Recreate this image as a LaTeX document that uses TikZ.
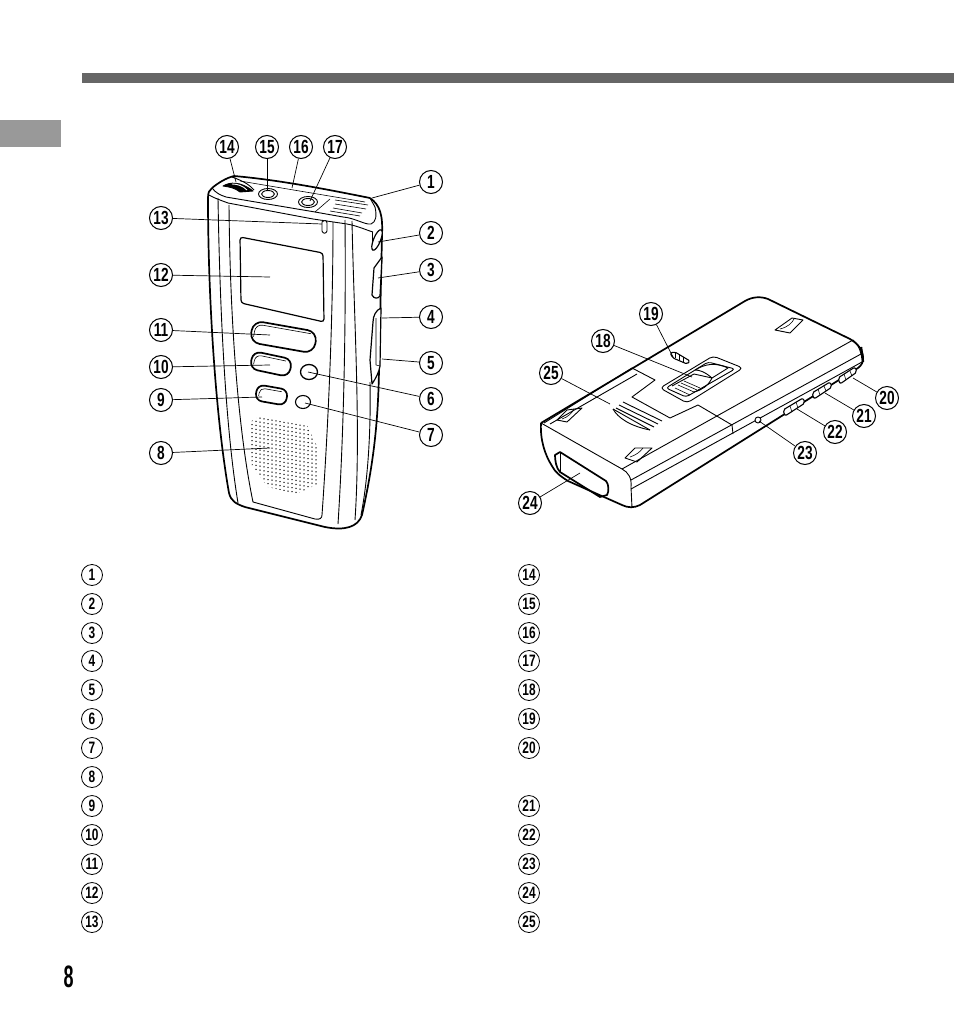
\documentclass[tikz,border=0pt]{standalone}
\usepackage{fontspec}
\usepackage{tikz}
\newfontfamily\numfont{Liberation Sans}[FakeStretch=0.72]
\newfontfamily\pagefont{Liberation Sans}[FakeStretch=0.58]
\definecolor{barGray}{HTML}{666666}
\definecolor{tabGray}{HTML}{999999}
\tikzset{
  callout/.style={circle,draw,line width=1pt,inner sep=0pt,minimum size=23pt,font=\numfont\bfseries\fontsize{19}{19}\selectfont},
  legendnum/.style={circle,draw,line width=.8pt,inner sep=0pt,minimum size=21pt,font=\numfont\bfseries\fontsize{16.5}{16.5}\selectfont},
  leader/.style={line width=.7pt},
  outline/.style={line width=1.7pt,line join=round},
  edge/.style={line width=.9pt,line join=round},
  fine/.style={line width=.6pt,line join=round}
}
\begin{document}
\begin{tikzpicture}[x=1pt,y=-1pt]
  \useasboundingbox (0,0) rectangle (954,1022);

  % Page furniture
  \fill[barGray] (82,73) rectangle (954,83);
  \fill[tabGray] (0,120) rectangle (61,147);
  \node[inner sep=0pt,font=\pagefont\bfseries\fontsize{31}{31}\selectfont] (page) at (68.5,977) {8};

  % Front view: body
  \draw[outline] (212,188) .. controls (209,190) and (208,193) .. (208,198) .. controls (208,300) and (216,420) .. (229,493)
    .. controls (231,501) and (236,504) .. (245,507) -- (325,527) .. controls (345,531) and (358,527) .. (362,515)
    .. controls (372,470) and (378,430) .. (379,370) -- (382,235) .. controls (383,215) and (380,205) .. (370,198);
  \draw[outline] (212,188) .. controls (218,183) and (226,178) .. (234,176) .. controls (280,180) and (330,190) .. (370,198);
  \draw[edge] (212,188) .. controls (216,193) and (220,195) .. (226,197) -- (315,212) -- (343,217) .. controls (355,218) and (365,225) .. (371,224)
    .. controls (376,222) and (377,216) .. (375,207) -- (370,198);
  \draw[edge] (209,195) .. controls (214,198) and (220,200) .. (228,203) -- (313,219) -- (347,224) .. controls (358,226) and (366,230) .. (373,232);
  % inner body lines
  \draw[edge] (218,198) .. controls (220,320) and (226,430) .. (238,503);
  \draw[edge] (229,205) .. controls (230,320) and (238,430) .. (253,502) -- (315,519) .. controls (320,520) and (322,518) .. (322,515)
    .. controls (328,430) and (333,320) .. (333,222);
  \draw[edge] (345,220) .. controls (346,320) and (344,430) .. (338,524);
  \draw[edge] (352,221) .. controls (354,320) and (361,430) .. (355,520);
  \draw[edge] (370,382) .. controls (371,430) and (368,480) .. (361,515);
  \draw[edge] (372,232) -- (372,250);
  % top face: wheel, jacks, slots
  \draw[edge,fill=black] (223,186) .. controls (230,182) and (240,181) .. (253,191) -- (240,192) .. controls (235,188) and (230,187) .. (223,186) -- cycle;
  \draw[edge,white] (232,184) .. controls (238,184) and (243,186) .. (247,190);
  \draw[edge] (232,177) .. controls (240,180) and (248,183) .. (254,190);
  \draw[edge,fill=white] (268,194) ellipse (9.5 and 5.5);
  \draw[edge] (268,194) ellipse (6.5 and 3.5);
  \draw[edge,fill=white] (308,202) ellipse (9.5 and 5.5);
  \draw[edge] (308,202) ellipse (6.5 and 3.5);
  \draw[fine] (240,181) -- (365,202);
  \draw[fine] (315,212) -- (330,199);
  \draw[fine] (335,200) -- (368,205);
  \draw[fine] (335,204) -- (366,209);
  \draw[fine] (333,208) -- (362,213);
  \draw[fine] (330,211) -- (360,216);
  % indicator and display
  \draw[edge,fill=white] (322,222) .. controls (324,220) and (327,220) .. (327,223) -- (327,231) .. controls (326,234) and (323,234) .. (322,231) -- cycle;
  \draw[outline,line width=1.2pt,rounded corners=3pt] (240,237) -- (323,253) -- (324,322) -- (241,303) -- cycle;
  % front buttons
  \draw[outline,rounded corners=10pt,rotate around={-10:(283.5,337)}] (251,326) rectangle (316,348);
  \draw[fine,rounded corners=7pt,rotate around={-10:(283.5,337)}] (254,342) -- (254,329) -- (310,329);
  \draw[outline,rounded corners=8pt,rotate around={-12:(271,364)}] (251,355) rectangle (291,373);
  \draw[fine,rounded corners=6pt,rotate around={-12:(271,364)}] (254,368) -- (254,358) -- (285,358);
  \draw[outline,rounded corners=7pt,rotate around={-10:(271.5,395)}] (256,387) rectangle (287,403);
  \draw[fine,rounded corners=5pt,rotate around={-10:(271.5,395)}] (259,398) -- (259,390) -- (281,390);
  \draw[outline,line width=1.3pt,fill=white] (309,372) ellipse (8.5 and 7.5);
  \draw[outline,line width=1.1pt,fill=white] (303,402) ellipse (7.5 and 6.5);
  % side buttons
  \draw[outline,line width=1.2pt,fill=white,rotate around={68:(377,240)}] (377,240) ellipse (11 and 3.5);
  \draw[outline,line width=1.2pt,fill=white] (382,257) -- (374,268) -- (372,295) .. controls (374,299) and (378,299) .. (380,296) -- cycle;
  \draw[outline,line width=1.2pt,fill=white] (381,308) .. controls (376,310) and (373,316) .. (373,322) -- (370,360) -- (372,384) .. controls (376,378) and (379,372) .. (380,366) -- cycle;
  \draw[fine] (376,318) -- (376,365) -- (380,366);
  % speaker grille
  \begin{scope}
    \clip (258,417) -- (308,426) -- (318,447) -- (318,484) -- (297,494) -- (268,487) -- (252,467) -- (250,422) -- cycle;
    \foreach \i in {0,...,18}
      \foreach \j in {0,...,20}
        \fill ({248+\i*4},{412+\j*4+\i*.7}) circle (.75);
  \end{scope}

  % Rear view: body
  \draw[outline] (541,423) -- (745,301) .. controls (752,297) and (760,296) .. (768,299) -- (850,339) .. controls (860,345) and (864,352) .. (863,362);
  \draw[outline] (541,423) .. controls (540,440) and (545,455) .. (552,466) .. controls (555,472) and (560,476) .. (568,481) -- (622,505)
    .. controls (628,508) and (634,508) .. (640,505) -- (858,368) .. controls (862,365) and (863,362) .. (863,358);
  \draw[edge] (541,423) -- (622,469) .. controls (628,472) and (632,478) .. (631,487) -- (632,508);
  \draw[edge] (622,469) -- (853,340) .. controls (858,344) and (860,350) .. (861,354);
  \draw[edge] (631,480) -- (861,354);
  \draw[edge] (631,489) -- (862,362);
  \draw[edge] (544,423) -- (632,368);
  \draw[edge] (550,424) -- (637,374);
  \draw[outline,line width=2.4pt] (861,347) -- (863,362);
  % battery door
  \draw[edge] (632,368) -- (655,380) -- (632,397) -- (670,418) -- (698,405) -- (732,425) -- (733,434);
  % vent slots
  \draw[edge] (623,402) -- (662,421);
  \draw[edge] (619,405) -- (658,424);
  \draw[edge] (616,408) -- (654,427);
  \draw[edge] (613,409) -- (650,430);
  \draw[edge] (613,409) .. controls (618,418) and (630,426) .. (650,430);
  % slide switch
  \draw[edge,fill=white,rounded corners=4pt] (660,388) -- (713,356) -- (743,368) -- (687,403) -- cycle;
  \draw[edge,rounded corners=3pt] (666,388) -- (708,362) -- (735,369) -- (686,397) -- cycle;
  \draw[edge] (695,370) .. controls (705,364) and (715,362) .. (728,368) -- (712,378) .. controls (705,372) and (700,370) .. (695,370);
  \draw[edge] (672,386) -- (694,374) -- (712,378) .. controls (708,386) and (702,390) .. (694,392);
  \draw[fine] (675,388) -- (690,395);
  \draw[fine] (678,385) -- (694,392);
  \draw[fine] (681,383) -- (697,390);
  \draw[fine] (684,381) -- (700,388);
  % small switch
  \draw[outline,line width=1.1pt,fill=white,rounded corners=1.5pt] (670,353) -- (675,352) -- (690,361) -- (687,364) -- (673,358) -- cycle;
  \draw[fine] (675,353) -- (675,358);
  \draw[fine] (679,355) -- (679,360);
  \draw[fine] (683,357) -- (683,362);
  % finger notches
  \draw[edge] (775,330) -- (792,318) -- (803,320) -- (790,333) -- cycle;
  \draw[fine] (780,329) .. controls (788,327) and (792,323) .. (794,319);
  \draw[edge] (557,420) -- (567,410) -- (582,408) -- (567,422) -- cycle;
  \draw[fine] (562,419) .. controls (568,417) and (572,413) .. (574,409);
  \draw[edge] (625,458) -- (635,448) -- (652,448) -- (637,462) -- cycle;
  \draw[fine] (630,457) .. controls (636,455) and (640,452) .. (643,448);
  % front window
  \draw[outline] (555,455) -- (560,452) -- (606,481) .. controls (609,484) and (609,492) .. (607,495) -- (600,497) -- (560,472) .. controls (556,468) and (555,460) .. (555,455) -- cycle;
  \draw[edge] (560,452) -- (560,472);
  % edge switches
  \draw[edge,fill=white,line width=1.1pt,rounded corners=2pt] (783,410) -- (803,398) -- (805,403) -- (785,416) -- cycle;
  \draw[fine] (790,406) -- (792,412);
  \draw[fine] (796,402) -- (798,408);
  \draw[edge,fill=white,line width=1.1pt,rounded corners=2pt] (812,393) -- (830,382) -- (832,387) -- (814,399) -- cycle;
  \draw[fine] (818,389) -- (820,395);
  \draw[fine] (824,386) -- (826,391);
  \draw[edge,fill=white,line width=1.1pt,rounded corners=2pt] (838,378) -- (855,367) -- (857,372) -- (840,384) -- cycle;
  \draw[fine] (844,374) -- (846,380);
  \draw[fine] (850,371) -- (852,376);
  \draw[edge,fill=white] (758,420) circle (3);

  % Callouts, front view
  \node[callout] (n1) at (431,182) {1};
  \node[callout] (n2) at (431,233) {2};
  \node[callout] (n3) at (431,270) {3};
  \node[callout] (n4) at (431,317) {4};
  \node[callout] (n5) at (431,363) {5};
  \node[callout] (n6) at (431,399) {6};
  \node[callout] (n7) at (431,435) {7};
  \node[callout] (n8) at (161,453) {8};
  \node[callout] (n9) at (161,400) {9};
  \node[callout] (n10) at (161,367) {10};
  \node[callout] (n11) at (161,330) {11};
  \node[callout] (n12) at (161,275) {12};
  \node[callout] (n13) at (161,218) {13};
  \node[callout] (n14) at (227,147) {14};
  \node[callout] (n15) at (267,147) {15};
  \node[callout] (n16) at (301,147) {16};
  \node[callout] (n17) at (335,147) {17};
  % Callouts, rear view
  \node[callout] (n18) at (603,341) {18};
  \node[callout] (n19) at (651,314) {19};
  \node[callout] (n20) at (887,398) {20};
  \node[callout] (n21) at (864,416) {21};
  \node[callout] (n22) at (835,432) {22};
  \node[callout] (n23) at (805,453) {23};
  \node[callout] (n24) at (530,503) {24};
  \node[callout] (n25) at (551,373) {25};

  % Leader ends
  \coordinate (p1) at (372,198);
  \coordinate (p2) at (378,242);
  \coordinate (p3) at (378,278);
  \coordinate (p4) at (382,318);
  \coordinate (p5) at (382,359);
  \coordinate (p6) at (308,372);
  \coordinate (p7) at (305,403);
  \coordinate (p8) at (270,448);
  \coordinate (p9) at (262,397);
  \coordinate (p10) at (270,365);
  \coordinate (p11) at (270,335);
  \coordinate (p12) at (270,277);
  \coordinate (p13) at (322,224);
  \coordinate (p14) at (236,182);
  \coordinate (p15) at (267,190);
  \coordinate (p16) at (292,188);
  \coordinate (p17) at (310,201);
  \coordinate (p18) at (692,377);
  \coordinate (p19) at (673,357);
  \coordinate (p20) at (853,378);
  \coordinate (p21) at (825,393);
  \coordinate (p22) at (797,409);
  \coordinate (p23) at (759,421);
  \coordinate (p24) at (580,473);
  \coordinate (p25) at (610,404);

  % Leaders
  \draw[leader] (n1) -- (p1);
  \draw[leader] (n2) -- (p2);
  \draw[leader] (n3) -- (p3);
  \draw[leader] (n4) -- (p4);
  \draw[leader] (n5) -- (p5);
  \draw[leader] (n6) -- (p6);
  \draw[leader] (n7) -- (p7);
  \draw[leader] (n8) -- (p8);
  \draw[leader] (n9) -- (p9);
  \draw[leader] (n10) -- (p10);
  \draw[leader] (n11) -- (p11);
  \draw[leader] (n12) -- (p12);
  \draw[leader] (n13) -- (p13);
  \draw[leader] (n14) -- (p14);
  \draw[leader] (n15) -- (p15);
  \draw[leader] (n16) -- (p16);
  \draw[leader] (n17) -- (p17);
  \draw[leader] (n18) -- (p18);
  \draw[leader] (n19) -- (p19);
  \draw[leader] (n20) -- (p20);
  \draw[leader] (n21) -- (p21);
  \draw[leader] (n22) -- (p22);
  \draw[leader] (n23) -- (p23);
  \draw[leader] (n24) -- (p24);
  \draw[leader] (n25) -- (p25);

  % Legend, left column
  \node[legendnum] (l1) at (92,575) {1};
  \node[legendnum] (l2) at (92,604) {2};
  \node[legendnum] (l3) at (92,633) {3};
  \node[legendnum] (l4) at (92,661) {4};
  \node[legendnum] (l5) at (92,690) {5};
  \node[legendnum] (l6) at (92,719) {6};
  \node[legendnum] (l7) at (92,748) {7};
  \node[legendnum] (l8) at (92,777) {8};
  \node[legendnum] (l9) at (92,806) {9};
  \node[legendnum] (l10) at (92,835) {10};
  \node[legendnum] (l11) at (92,864) {11};
  \node[legendnum] (l12) at (92,893) {12};
  \node[legendnum] (l13) at (92,922) {13};
  % Legend, right column
  \node[legendnum] (l14) at (529,575) {14};
  \node[legendnum] (l15) at (529,604) {15};
  \node[legendnum] (l16) at (529,633) {16};
  \node[legendnum] (l17) at (529,661) {17};
  \node[legendnum] (l18) at (529,690) {18};
  \node[legendnum] (l19) at (529,719) {19};
  \node[legendnum] (l20) at (529,748) {20};
  \node[legendnum] (l21) at (529,806) {21};
  \node[legendnum] (l22) at (529,835) {22};
  \node[legendnum] (l23) at (529,864) {23};
  \node[legendnum] (l24) at (529,893) {24};
  \node[legendnum] (l25) at (529,922) {25};
\end{tikzpicture}
\end{document}
